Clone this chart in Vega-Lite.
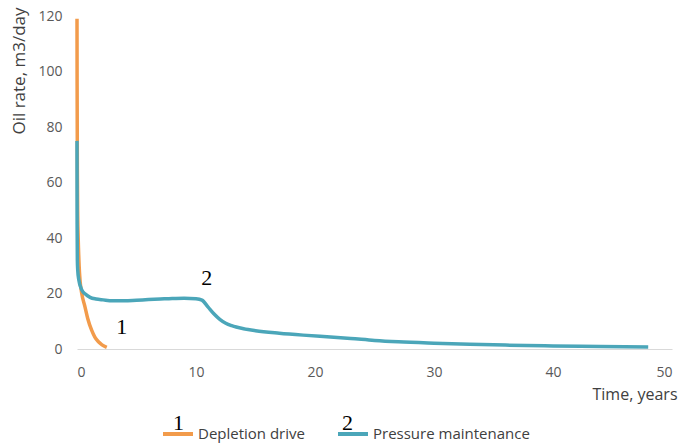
{
  "$schema": "https://vega.github.io/schema/vega-lite/v6.json",
  "width": 595,
  "height": 333,
  "autosize": "none",
  "padding": {"left": 77, "top": 16, "right": 10, "bottom": 96},
  "background": "white",
  "config": {
    "view": {"stroke": null},
    "font": "Open Sans"
  },
  "datasets": {
    "curves": [
      {"series": "Depletion drive", "num": "1", "t": 0, "rate": 119},
      {"series": "Depletion drive", "num": "1", "t": 0.01, "rate": 95},
      {"series": "Depletion drive", "num": "1", "t": 0.03, "rate": 65},
      {"series": "Depletion drive", "num": "1", "t": 0.06, "rate": 48},
      {"series": "Depletion drive", "num": "1", "t": 0.1, "rate": 40},
      {"series": "Depletion drive", "num": "1", "t": 0.18, "rate": 30},
      {"series": "Depletion drive", "num": "1", "t": 0.25, "rate": 25},
      {"series": "Depletion drive", "num": "1", "t": 0.4, "rate": 20},
      {"series": "Depletion drive", "num": "1", "t": 0.67, "rate": 15.2},
      {"series": "Depletion drive", "num": "1", "t": 0.9, "rate": 11},
      {"series": "Depletion drive", "num": "1", "t": 1.23, "rate": 6.8},
      {"series": "Depletion drive", "num": "1", "t": 1.5, "rate": 4.3},
      {"series": "Depletion drive", "num": "1", "t": 1.8, "rate": 2.6},
      {"series": "Depletion drive", "num": "1", "t": 2.1, "rate": 1.5},
      {"series": "Depletion drive", "num": "1", "t": 2.5, "rate": 0.6},
      {"series": "Pressure maintenance", "num": "2", "t": 0, "rate": 75},
      {"series": "Pressure maintenance", "num": "2", "t": 0.01, "rate": 45},
      {"series": "Pressure maintenance", "num": "2", "t": 0.03, "rate": 32},
      {"series": "Pressure maintenance", "num": "2", "t": 0.06, "rate": 28.5},
      {"series": "Pressure maintenance", "num": "2", "t": 0.15, "rate": 25},
      {"series": "Pressure maintenance", "num": "2", "t": 0.4, "rate": 21.3},
      {"series": "Pressure maintenance", "num": "2", "t": 0.7, "rate": 19.8},
      {"series": "Pressure maintenance", "num": "2", "t": 1.1, "rate": 18.6},
      {"series": "Pressure maintenance", "num": "2", "t": 1.6, "rate": 18},
      {"series": "Pressure maintenance", "num": "2", "t": 2.2, "rate": 17.7},
      {"series": "Pressure maintenance", "num": "2", "t": 3, "rate": 17.4},
      {"series": "Pressure maintenance", "num": "2", "t": 4, "rate": 17.4},
      {"series": "Pressure maintenance", "num": "2", "t": 5, "rate": 17.6},
      {"series": "Pressure maintenance", "num": "2", "t": 6, "rate": 17.8},
      {"series": "Pressure maintenance", "num": "2", "t": 7, "rate": 18},
      {"series": "Pressure maintenance", "num": "2", "t": 8, "rate": 18.2},
      {"series": "Pressure maintenance", "num": "2", "t": 9, "rate": 18.3},
      {"series": "Pressure maintenance", "num": "2", "t": 10, "rate": 18.1},
      {"series": "Pressure maintenance", "num": "2", "t": 10.5, "rate": 17.6},
      {"series": "Pressure maintenance", "num": "2", "t": 11, "rate": 15.2},
      {"series": "Pressure maintenance", "num": "2", "t": 11.5, "rate": 12.7},
      {"series": "Pressure maintenance", "num": "2", "t": 12, "rate": 10.7},
      {"series": "Pressure maintenance", "num": "2", "t": 12.5, "rate": 9.3},
      {"series": "Pressure maintenance", "num": "2", "t": 13, "rate": 8.4},
      {"series": "Pressure maintenance", "num": "2", "t": 14, "rate": 7.3},
      {"series": "Pressure maintenance", "num": "2", "t": 15, "rate": 6.6},
      {"series": "Pressure maintenance", "num": "2", "t": 17, "rate": 5.7},
      {"series": "Pressure maintenance", "num": "2", "t": 19, "rate": 5},
      {"series": "Pressure maintenance", "num": "2", "t": 21, "rate": 4.4},
      {"series": "Pressure maintenance", "num": "2", "t": 23, "rate": 3.8},
      {"series": "Pressure maintenance", "num": "2", "t": 25, "rate": 3.1},
      {"series": "Pressure maintenance", "num": "2", "t": 27, "rate": 2.6},
      {"series": "Pressure maintenance", "num": "2", "t": 30, "rate": 2.1},
      {"series": "Pressure maintenance", "num": "2", "t": 33, "rate": 1.7},
      {"series": "Pressure maintenance", "num": "2", "t": 36, "rate": 1.4},
      {"series": "Pressure maintenance", "num": "2", "t": 40, "rate": 1.1},
      {"series": "Pressure maintenance", "num": "2", "t": 44, "rate": 0.9},
      {"series": "Pressure maintenance", "num": "2", "t": 48, "rate": 0.7}
    ],
    "notes": [
      {"t": 3.76, "rate": 8.0, "label": "1"},
      {"t": 10.9, "rate": 25.5, "label": "2"}
    ]
  },
  "layer": [
    {
      "data": {"name": "curves"},
      "mark": {"type": "line", "strokeWidth": 3.5, "interpolate": "monotone", "clip": false},
      "encoding": {
        "x": {
          "field": "t",
          "type": "quantitative",
          "scale": {"domain": [0, 50], "nice": false},
          "axis": {
            "values": [0, 10, 20, 30, 40, 50],
            "title": "Time, years",
            "grid": false,
            "ticks": false,
            "domainColor": "#d9d9d9",
            "domainWidth": 1,
            "labelFontSize": 14,
            "labelColor": "#595959",
            "labelPadding": 16,
            "titleFontSize": 16,
            "titleFontWeight": "normal",
            "titleColor": "#404040",
            "titleAlign": "left",
            "titleBaseline": "middle",
            "titleX": 515,
            "titleY": 45
          }
        },
        "y": {
          "field": "rate",
          "type": "quantitative",
          "scale": {"domain": [0, 120], "nice": false},
          "axis": {
            "values": [0, 20, 40, 60, 80, 100, 120],
            "title": "Oil rate, m3/day",
            "grid": false,
            "ticks": false,
            "domain": false,
            "labelFontSize": 14,
            "labelColor": "#595959",
            "labelPadding": 15,
            "titleFontSize": 17,
            "titleFontWeight": "normal",
            "titleColor": "#404040",
            "titleAngle": -90,
            "titleAlign": "right",
            "titleBaseline": "middle",
            "titleX": -58,
            "titleY": -9
          }
        },
        "color": {
          "field": "series",
          "type": "nominal",
          "scale": {"domain": ["Depletion drive", "Pressure maintenance"], "range": ["#F29B4B", "#4BA6B9"]},
          "legend": {
            "title": null,
            "orient": "none",
            "direction": "horizontal",
            "legendX": 84,
            "legendY": 401,
            "symbolType": "stroke",
            "symbolSize": 900,
            "symbolStrokeWidth": 4,
            "labelOffset": 3,
            "labelFontSize": 15,
            "labelColor": "#404040",
            "columnPadding": 25
          }
        },
        "opacity": {
          "field": "num",
          "type": "nominal",
          "scale": {"domain": ["1", "2"], "range": [1, 1]},
          "legend": {
            "title": null,
            "orient": "none",
            "direction": "horizontal",
            "legendX": 74,
            "legendY": 396,
            "symbolSize": 0,
            "symbolOpacity": 0,
            "symbolStrokeWidth": 0,
            "labelOffset": 0,
            "labelFont": "Liberation Serif",
            "labelFontSize": 22,
            "labelColor": "#000000",
            "columnPadding": 136
          }
        }
      }
    },
    {
      "data": {"name": "notes"},
      "mark": {"type": "text", "font": "Liberation Serif", "fontSize": 22, "color": "#000000", "align": "center", "baseline": "middle"},
      "encoding": {
        "x": {"field": "t", "type": "quantitative"},
        "y": {"field": "rate", "type": "quantitative"},
        "text": {"field": "label"}
      }
    }
  ]
}
